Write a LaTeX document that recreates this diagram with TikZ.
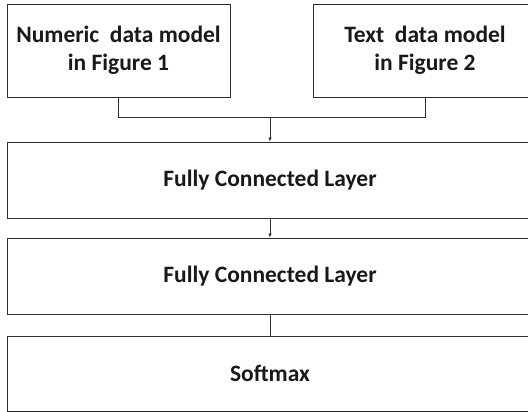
\documentclass[tikz,border=0pt]{standalone}
\usepackage{fontspec}
\setmainfont{Carlito}
\usetikzlibrary{positioning, arrows.meta}
\newcommand{\flowarrow}{-{Latex[length=4pt,width=3.5pt]}}
\definecolor{edgegray}{HTML}{2E2E2E}

\begin{document}
\begin{tikzpicture}[x=1pt, y=-1pt,
        layerbox/.style={draw=edgegray, line width=0.9pt, align=center,
            font=\fontsize{23.5}{28}\selectfont\bfseries, text=black!90,
            inner sep=0pt},
        link/.style={draw=edgegray, line width=0.8pt}]
            \clip (0,0) rectangle (528,412);
            \useasboundingbox (0,0) rectangle (528,412);
            \node[layerbox, minimum width=223pt, minimum height=93pt] (numeric) at (118.5,50.5)
                {Numeric\ \ data model\\in Figure 1};
            \node[layerbox, minimum width=224pt, minimum height=93pt] (textmodel) at (425,50.5)
                {Text\ \ data model\\in Figure 2};
            \node[layerbox, minimum width=526pt, minimum height=76pt] (fcone) at (270,180)
                {Fully Connected Layer};
            \node[layerbox, minimum width=526pt, minimum height=76pt] (fctwo) at (270,276)
                {Fully Connected Layer};
            \node[layerbox, minimum width=526pt, minimum height=75pt] (softmax) at (270,373.5)
                {Softmax};
            \coordinate (merge) at (270,117);
            \draw[link] (numeric.south) |- (merge);
            \draw[link] (textmodel.south) |- (merge);
            \draw[link, \flowarrow] (merge) -- (fcone.north);
            \draw[link, \flowarrow] (fcone.south) -- (fctwo.north);
            \draw[link] (fctwo.south) -- (softmax.north);
        \end{tikzpicture}
\end{document}
